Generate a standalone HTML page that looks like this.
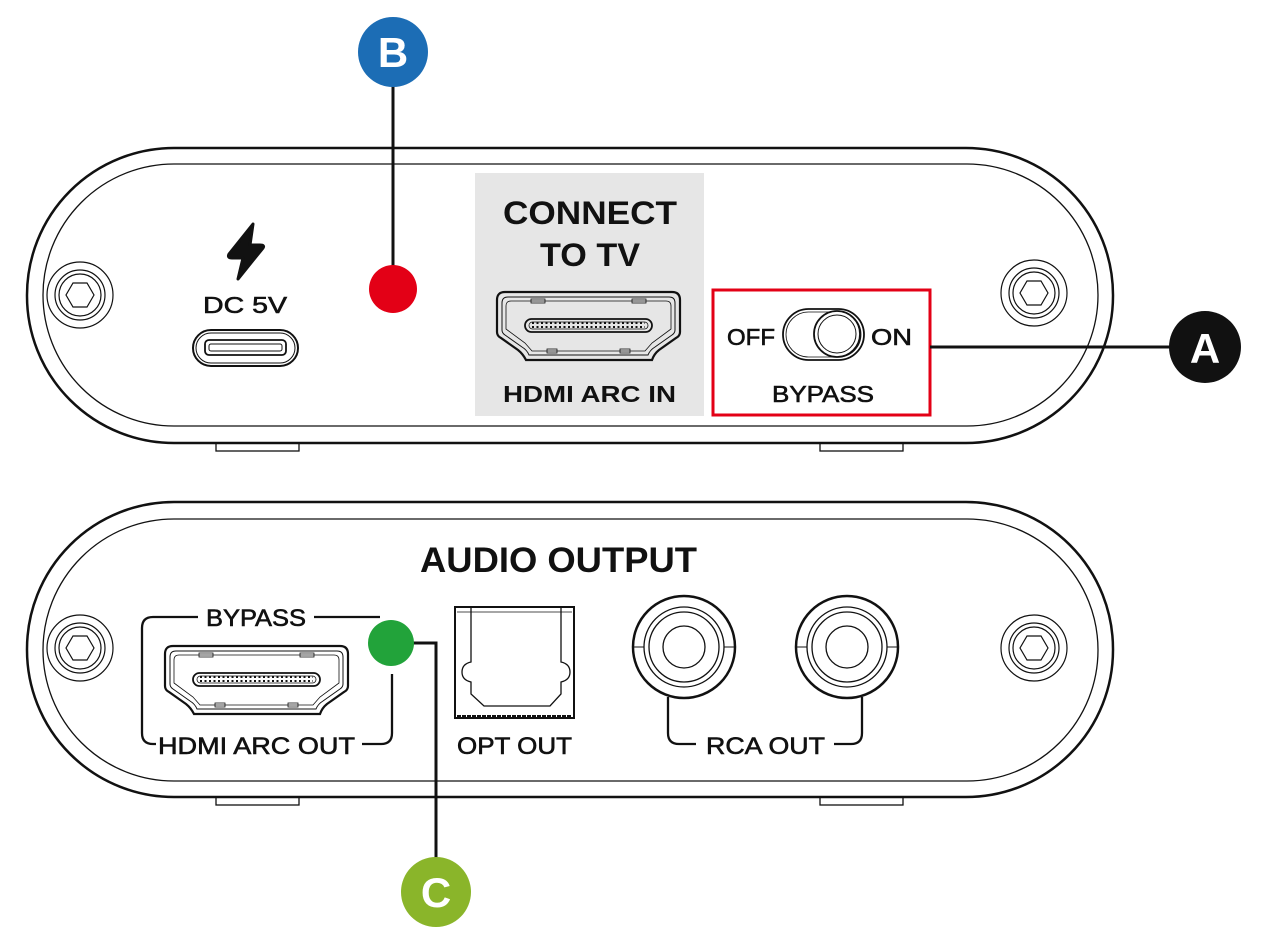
<!DOCTYPE html>
<html><head><meta charset="utf-8"><style>
html,body{margin:0;padding:0;background:#fff;}
svg{display:block;}
text{font-family:"Liberation Sans",sans-serif;fill:#111;}
.m{stroke:#111;stroke-width:0.6;}
</style></head><body>
<svg width="1263" height="951" viewBox="0 0 1263 951" xmlns="http://www.w3.org/2000/svg">
<defs>
<g id="hdmi" fill="none" stroke="#111">
  <path d="M0,8 Q0,0 8,0 L175,0 Q183,0 183,8 L183,40 Q183,44 179,46 L162,58 Q157,62 155,68 L29,68 Q26,62 21,58 L4,46 Q0,44 0,40 Z" stroke-width="2.2"/>
  <path d="M5,11 Q5,5 11,5 L172,5 Q178,5 178,11 L178,38 Q178,41 175,43 L158,55 Q153,58 151,63 L32,63 Q30,58 25,55 L8,43 Q5,41 5,38 Z" stroke-width="1"/>
  <path d="M9,14 Q9,9 14,9 L169,9 Q174,9 174,14 L174,37 L155,51 L148,59 L35,59 L28,51 L9,37 Z" stroke-width="0.8"/>
  <rect x="28" y="27" width="127" height="13" rx="6.5" stroke-width="1.8"/>
  <rect x="32" y="30" width="119" height="7" rx="3.5" stroke-width="0.8"/>
  <path d="M35,31 h113 M35,35 h113" stroke-width="2" stroke-dasharray="2 2.5"/>
  <rect x="34" y="7" width="14" height="4" stroke-width="0.8"/>
  <rect x="135" y="7" width="14" height="4" stroke-width="0.8"/>
  <rect x="50" y="57" width="10" height="4" stroke-width="0.8"/>
  <rect x="123" y="57" width="10" height="4" stroke-width="0.8"/>
</g>
<g id="screw" fill="none" stroke="#111">
  <circle r="33" stroke-width="1.2"/>
  <circle r="25" stroke-width="1.2"/>
  <circle r="21" stroke-width="1.2"/>
  <polygon points="14,0 7,12 -7,12 -14,0 -7,-12 7,-12" stroke-width="1.2"/>
</g>
<g id="rca" fill="none" stroke="#111">
  <circle r="51" stroke-width="2.5"/>
  <circle r="40" stroke-width="1.3"/>
  <circle r="35" stroke-width="1.3"/>
  <circle r="21" stroke-width="1.3"/>
  <path d="M-51,0 h11 M40,0 h11" stroke-width="1"/>
</g>
</defs>

<!-- TOP PANEL -->
<rect x="27" y="148" width="1086" height="295" rx="147" fill="none" stroke="#111" stroke-width="2.5"/>
<rect x="43" y="164" width="1055" height="262" rx="131" fill="none" stroke="#111" stroke-width="1.3"/>
<rect x="216" y="443" width="83" height="8" fill="none" stroke="#111" stroke-width="1.3"/>
<rect x="820" y="443" width="83" height="8" fill="none" stroke="#111" stroke-width="1.3"/>
<use href="#screw" x="80" y="295"/>
<use href="#screw" x="1034" y="293"/>

<!-- bolt -->
<path d="M253,224 L229,254 Q227,258 232,258 L243,258 L238,279 L263,248 Q265,245 260,245 L250,245 Z" fill="#111" stroke="#111" stroke-width="3" stroke-linejoin="round"/>
<text x="203" y="313" font-size="23" textLength="84" lengthAdjust="spacingAndGlyphs" class="m">DC 5V</text>
<g fill="none" stroke="#111">
<rect x="193" y="330" width="105" height="36" rx="18" stroke-width="2"/>
<rect x="196" y="333" width="99" height="30" rx="15" stroke-width="1"/>
<rect x="205" y="340" width="81" height="15" rx="4" stroke-width="1.8"/>
<rect x="209" y="344" width="73" height="7" rx="2" stroke-width="1"/>
</g>

<!-- B -->
<line x1="393" y1="85" x2="393" y2="270" stroke="#111" stroke-width="3"/>
<circle cx="393" cy="289" r="24" fill="#e30016"/>
<circle cx="393" cy="52" r="35" fill="#1c6db5"/>
<text x="393" y="67" font-size="42" text-anchor="middle" style="fill:#fff" font-weight="bold">B</text>

<!-- connect to TV -->
<rect x="475" y="173" width="229" height="243" fill="#e6e6e6"/>
<text x="503" y="224" font-size="32" font-weight="bold" textLength="174" lengthAdjust="spacingAndGlyphs">CONNECT</text>
<text x="540" y="266" font-size="32" font-weight="bold" textLength="100" lengthAdjust="spacingAndGlyphs">TO TV</text>
<use href="#hdmi" x="497" y="292"/>
<text x="503" y="402" font-size="23" font-weight="bold" textLength="173" lengthAdjust="spacingAndGlyphs">HDMI ARC IN</text>

<!-- bypass switch -->
<rect x="713" y="290" width="217" height="125" fill="none" stroke="#e30016" stroke-width="3"/>
<text x="727" y="345" font-size="23" class="m" textLength="48" lengthAdjust="spacingAndGlyphs">OFF</text>
<rect x="783" y="309" width="81" height="51" rx="25.5" fill="none" stroke="#111" stroke-width="1.8"/>
<rect x="786" y="312" width="75" height="45" rx="22.5" fill="none" stroke="#111" stroke-width="0.8"/>
<circle cx="837" cy="334" r="23" fill="#fff" stroke="#111" stroke-width="1.8"/>
<circle cx="837" cy="334" r="19" fill="none" stroke="#111" stroke-width="1"/>
<text x="871" y="345" font-size="23" class="m" textLength="41" lengthAdjust="spacingAndGlyphs">ON</text>
<text x="772" y="402" font-size="23" class="m" textLength="102" lengthAdjust="spacingAndGlyphs">BYPASS</text>

<!-- A -->
<line x1="930" y1="347" x2="1175" y2="347" stroke="#111" stroke-width="3"/>
<circle cx="1205" cy="347" r="36" fill="#111"/>
<text x="1205" y="363" font-size="42" text-anchor="middle" style="fill:#fff" font-weight="bold">A</text>

<!-- BOTTOM PANEL -->
<rect x="27" y="502" width="1086" height="295" rx="147" fill="none" stroke="#111" stroke-width="2.5"/>
<rect x="43" y="519" width="1055" height="262" rx="131" fill="none" stroke="#111" stroke-width="1.3"/>
<rect x="216" y="797" width="83" height="8" fill="none" stroke="#111" stroke-width="1.3"/>
<rect x="820" y="797" width="83" height="8" fill="none" stroke="#111" stroke-width="1.3"/>
<use href="#screw" x="80" y="648"/>
<use href="#screw" x="1034" y="648"/>

<text x="420" y="572" font-size="35" font-weight="bold" textLength="277" lengthAdjust="spacingAndGlyphs">AUDIO OUTPUT</text>

<!-- HDMI ARC OUT -->
<path d="M198,617 H153 Q142,617 142,628 V733 Q142,744 153,744 H156" fill="none" stroke="#111" stroke-width="2.3"/>
<path d="M314,617 H380" fill="none" stroke="#111" stroke-width="2.3"/>
<path d="M392,674 V733 Q392,744 381,744 H362" fill="none" stroke="#111" stroke-width="2.3"/>
<text x="206" y="626" font-size="24" class="m" textLength="100" lengthAdjust="spacingAndGlyphs">BYPASS</text>
<use href="#hdmi" x="165" y="646"/>
<text x="158" y="754" font-size="24" class="m" textLength="197" lengthAdjust="spacingAndGlyphs">HDMI ARC OUT</text>

<!-- C -->
<path d="M412,643 H436 V862" fill="none" stroke="#111" stroke-width="3"/>
<circle cx="391" cy="643" r="23" fill="#22a33a"/>
<circle cx="436" cy="892" r="35" fill="#8ab52a"/>
<text x="436" y="907" font-size="42" text-anchor="middle" style="fill:#fff" font-weight="bold">C</text>

<!-- OPT -->
<g fill="none" stroke="#111">
<rect x="455" y="607" width="119" height="111" stroke-width="2"/>
<line x1="457" y1="612" x2="572" y2="612" stroke-width="0.8"/>
<line x1="457" y1="716" x2="572" y2="716" stroke-width="2" stroke-dasharray="4 1"/>
<path d="M471,608 V662 Q462,664 462,672 Q462,680 471,682 V694 L484,706 H550 L561,694 V682 Q570,680 570,672 Q570,664 561,662 V608" stroke-width="1.3"/>
</g>
<text x="457" y="754" font-size="24" class="m" textLength="115" lengthAdjust="spacingAndGlyphs">OPT OUT</text>

<!-- RCA -->
<use href="#rca" x="684" y="647"/>
<use href="#rca" x="847" y="647"/>
<path d="M668,697 V733 Q668,744 679,744 H696" fill="none" stroke="#111" stroke-width="2.3"/>
<path d="M834,744 H851 Q862,744 862,733 V697" fill="none" stroke="#111" stroke-width="2.3"/>
<text x="706" y="754" font-size="24" class="m" textLength="119" lengthAdjust="spacingAndGlyphs">RCA OUT</text>
</svg>
</body></html>
